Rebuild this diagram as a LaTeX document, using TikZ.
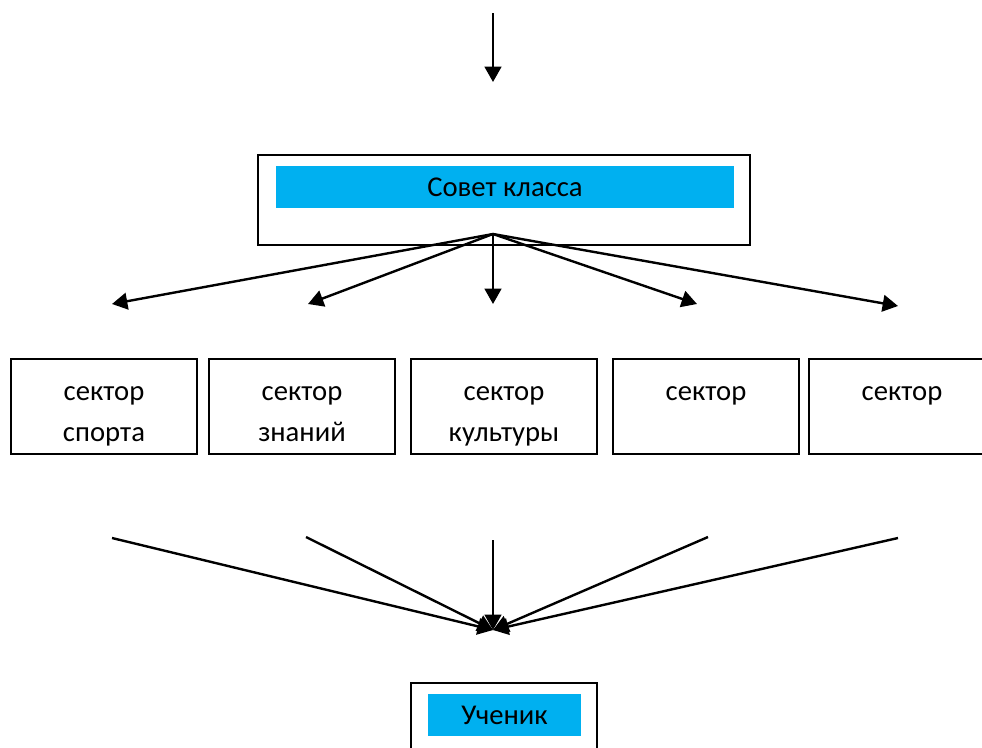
\documentclass[tikz,border=0pt]{standalone}
\usepackage{fontspec}
\setmainfont{Carlito}
\usepackage{xcolor}
\usetikzlibrary{arrows.meta}
\definecolor{barblue}{HTML}{00B0F0}
% two lines of a sector box, first line pushed down a little
\newcommand{\sectorlines}[2]{\rule{0pt}{31pt}#1\\\strut #2}

\begin{document}
\begin{tikzpicture}[x=0.75pt,y=0.75pt,yscale=-1,xscale=1,
  box/.style={draw, line width=1.6pt, inner sep=0pt},
  bar/.style={fill=barblue, inner sep=0pt},
  sector/.style={box, minimum width=139.5pt, minimum height=71.25pt, align=center},
  link/.style={line width=1.8pt, -{Triangle[length=11.5pt,width=12.5pt]}},
  font=\fontsize{21.5}{30.75}\selectfont]
\useasboundingbox (0,0) rectangle (982,747);

%Straight Lines: arrow from above
\coordinate (intop) at (493,13);
\coordinate (intip) at (493,82);
\draw [link] (intop) -- (intip);

%Shape: Rectangle (council)
\node [box, minimum width=369pt, minimum height=67.5pt] (council) at (504,200) {};
% Text Node
\node [bar, minimum width=343.5pt, minimum height=31.5pt] (councilname) at (505,187) {Совет класса};

%Fan out to the sectors
\coordinate (hub) at (493,234);
\coordinate (t1) at (112,304);
\coordinate (t2) at (308,304);
\coordinate (t3) at (493,304);
\coordinate (t4) at (697,304);
\coordinate (t5) at (898,306);
\draw [link] (hub) -- (t1);
\draw [link] (hub) -- (t2);
\draw [link] (hub) -- (t3);
\draw [link] (hub) -- (t4);
\draw [link] (hub) -- (t5);

%Shape: Rectangle (sectors)
\node [sector] (sport) at (104,406.5) {\sectorlines{сектор}{спорта}};
\node [sector] (knowledge) at (302,406.5) {\sectorlines{сектор}{знаний}};
\node [sector] (culture) at (504,406.5) {\sectorlines{сектор}{культуры}};
\node [sector] (sectorfour) at (706,406.5) {\sectorlines{сектор}{}};
\node [sector] (sectorfive) at (902,406.5) {\sectorlines{сектор}{}};

%Fan in to the pupil
\coordinate (s1) at (112,538);
\coordinate (s2) at (306,537);
\coordinate (s3) at (493,540);
\coordinate (s4) at (708,537);
\coordinate (s5) at (898,538);
\coordinate (meet) at (493,630);
\draw [link] (s1) -- (meet);
\draw [link] (s2) -- (meet);
\draw [link] (s3) -- (meet);
\draw [link] (s4) -- (meet);
\draw [link] (s5) -- (meet);

%Shape: Rectangle (pupil)
\node [box, minimum width=139.5pt, minimum height=67.5pt] (pupil) at (504,728) {};
% Text Node
\node [bar, minimum width=114.75pt, minimum height=31.5pt] (pupilname) at (504.5,715) {Ученик};

\end{tikzpicture}
\end{document}
